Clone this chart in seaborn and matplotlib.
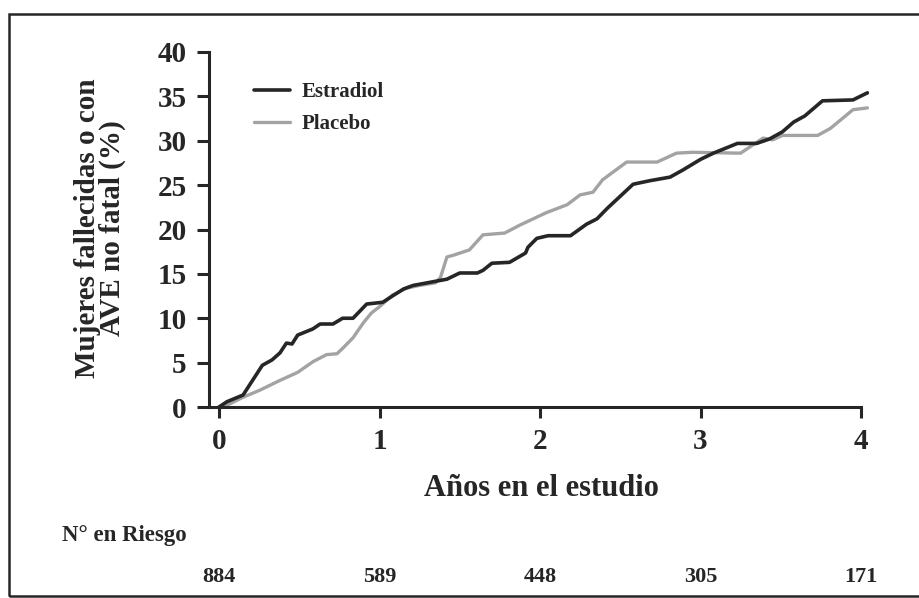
import matplotlib
matplotlib.use("Agg")
import matplotlib.pyplot as plt
import seaborn as sns
import pandas as pd
from matplotlib.patches import Rectangle

# ---- data ----
estradiol_years = [0.0, 0.05, 0.15, 0.27, 0.33, 0.38, 0.42, 0.455, 0.49, 0.585, 0.63, 0.71, 0.77,
                   0.835, 0.92, 1.02, 1.08, 1.15, 1.21, 1.33, 1.42, 1.50, 1.61, 1.645, 1.70, 1.81,
                   1.91, 1.925, 1.98, 2.05, 2.19, 2.29, 2.355, 2.42, 2.58, 2.685, 2.81, 2.89, 3.0,
                   3.08, 3.23, 3.35, 3.43, 3.51, 3.58, 3.65, 3.76, 3.95, 4.04]
estradiol_pct = [0.0, 0.6, 1.35, 4.7, 5.3, 6.1, 7.2, 7.1, 8.1, 8.8, 9.35, 9.35, 10.0,
                 10.0, 11.6, 11.8, 12.5, 13.3, 13.7, 14.1, 14.4, 15.1, 15.1, 15.4, 16.2, 16.3,
                 17.35, 18.0, 19.0, 19.3, 19.3, 20.6, 21.2, 22.4, 25.1, 25.5, 25.9, 26.7, 27.9,
                 28.6, 29.7, 29.7, 30.2, 31.0, 32.1, 32.8, 34.5, 34.6, 35.4]

placebo_years = [0.0, 0.05, 0.15, 0.255, 0.38, 0.49, 0.585, 0.67, 0.735, 0.77, 0.835, 0.90, 0.95,
                 1.0, 1.05, 1.08, 1.17, 1.25, 1.35, 1.38, 1.42, 1.46, 1.56, 1.645, 1.78, 1.875,
                 2.04, 2.17, 2.25, 2.33, 2.39, 2.54, 2.73, 2.85, 2.95, 3.25, 3.39, 3.45, 3.51,
                 3.73, 3.81, 3.95, 4.04]
placebo_pct = [0.0, 0.2, 1.1, 1.9, 3.0, 3.9, 5.1, 5.9, 6.0, 6.6, 7.8, 9.5, 10.6,
               11.3, 12.1, 12.6, 13.4, 13.7, 14.0, 14.6, 16.9, 17.1, 17.7, 19.4, 19.6, 20.5,
               21.9, 22.8, 23.9, 24.2, 25.6, 27.6, 27.6, 28.6, 28.7, 28.6, 30.3, 30.1, 30.6,
               30.6, 31.4, 33.5, 33.7]

series_names = ["Estradiol", "Placebo"]
x_ticks = [0, 1, 2, 3, 4]
y_ticks = [0, 5, 10, 15, 20, 25, 30, 35, 40]
at_risk = ["884", "589", "448", "305", "171"]

# ---- style ----
sns.set_theme(style="white")
plt.rcParams["font.family"] = ["Liberation Serif", "DejaVu Serif"]
plt.rcParams["font.weight"] = "bold"
INK = "#262626"

W, H = 920, 598
fig = plt.figure(figsize=(W / 100, H / 100), dpi=100)

# axes placement in pixels
x0_px, per_year = 219.0, 160.5
xmin, xmax = -0.0623, 4.05
left_px = x0_px + xmin * per_year
right_px = x0_px + xmax * per_year
bottom_px, top_px = 407.0, 52.0
ax = fig.add_axes([left_px / W, 1 - bottom_px / H, (right_px - left_px) / W, (bottom_px - top_px) / H])

df_e = pd.DataFrame({"x": estradiol_years, "y": estradiol_pct})
df_p = pd.DataFrame({"x": placebo_years, "y": placebo_pct})
sns.lineplot(data=df_p, x="x", y="y", ax=ax, color="#a3a3a3", lw=2.4, sort=False,
             estimator=None, label=series_names[1])
sns.lineplot(data=df_e, x="x", y="y", ax=ax, color=INK, lw=2.6, sort=False,
             estimator=None, label=series_names[0])

ax.set_xlim(xmin, xmax)
ax.set_ylim(0, 40)
ax.set_xticks(x_ticks)
ax.set_yticks(y_ticks)
ax.set_xticklabels([str(v) for v in x_ticks])
ax.set_yticklabels([str(v) for v in y_ticks])
ax.spines["top"].set_visible(False)
ax.spines["right"].set_visible(False)
for s in ["left", "bottom"]:
    ax.spines[s].set_linewidth(2.2)
    ax.spines[s].set_color(INK)
ax.spines["bottom"].set_bounds(xmin, 4)
ax.spines["left"].set_bounds(0, 40)
ax.tick_params(axis="y", direction="out", length=9, width=2.2, color=INK,
               labelsize=21, pad=7, left=True)
ax.tick_params(axis="x", direction="out", length=8, width=2.2, color=INK,
               labelsize=21, pad=7, bottom=True)
for lab in ax.get_xticklabels() + ax.get_yticklabels():
    lab.set_fontweight("bold")
    lab.set_color(INK)

ax.set_xlabel("")
ax.set_ylabel("")
fig.text(100 / W, 1 - 228 / H, "Mujeres fallecidas o con\nAVE no fatal (%)", rotation=90,
         ha="center", va="center", fontsize=21, fontweight="bold", color=INK,
         linespacing=0.9)
fig.text(541 / W, 1 - 489 / H, "Años en el estudio", ha="center", va="center",
         fontsize=22, fontweight="bold", color=INK)
fig.text(62 / W, 1 - 536 / H, "N° en Riesgo", ha="left", va="center",
         fontsize=16.5, fontweight="bold", color=INK)
for xv, lab in zip(x_ticks, at_risk):
    fig.text((x0_px + xv * per_year) / W, 1 - 577 / H, lab, ha="center", va="center",
             fontsize=16, fontweight="bold", color=INK)

# legend
handles, labels = ax.get_legend_handles_labels()
order = [labels.index(n) for n in series_names]
leg = ax.legend([handles[i] for i in order], [labels[i] for i in order],
                loc="upper left", bbox_to_anchor=(0.04, 0.967), frameon=False,
                prop={"size": 15, "weight": "bold"}, handlelength=1.7, handletextpad=0.6,
                labelspacing=0.55)
for t in leg.get_texts():
    t.set_color(INK)

# frame around the figure
fig.patches.append(Rectangle((9 / W, 2 / H), (W + 5 - 9) / W, (584 - 2) / H,
                             transform=fig.transFigure, fill=False, lw=1.8,
                             edgecolor=INK))

fig.savefig("out.png", dpi=100, facecolor="white")
